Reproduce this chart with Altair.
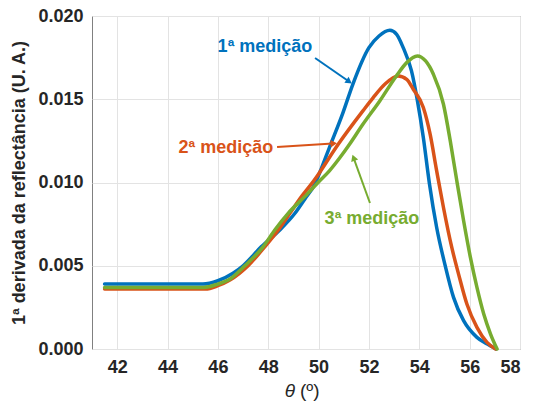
import math
import altair as alt
import pandas as pd

# ---- data ----
blue_x = [41.5, 45.4, 46.0, 46.6, 47.0, 47.73, 48.46, 49.06, 49.45, 49.85, 50.1, 50.43, 50.97,
          51.36, 52.0, 52.4, 52.83, 53.1, 53.36, 53.69, 53.92, 54.16, 54.4, 54.69, 55.03, 55.36,
          55.76, 56.29, 56.7, 57.05]
blue_y = [0.0039, 0.0039, 0.0041, 0.00455, 0.0050, 0.00615, 0.00715, 0.00815, 0.0090, 0.0099,
          0.0108, 0.0121, 0.0142, 0.0159, 0.0181, 0.0188, 0.01914, 0.0189, 0.0181, 0.0167,
          0.01496, 0.0127, 0.00996, 0.0073, 0.0050, 0.0031, 0.0017, 0.0007, 0.0003, 0.0]

orange_x = [41.5, 45.5, 46.0, 46.48, 47.2, 47.87, 48.4, 48.86, 49.32, 49.81, 50.78, 51.76, 52.17,
            52.63, 53.16, 53.5, 53.76, 54.16, 54.43, 54.69, 54.96, 55.29, 55.56, 55.89, 56.29,
            56.69, 57.03]
orange_y = [0.0036, 0.0036, 0.0038, 0.00414, 0.0050, 0.00615, 0.00715, 0.00815, 0.00915, 0.0101,
            0.0123, 0.0143, 0.0151, 0.0159, 0.0164, 0.0162, 0.0156, 0.0145, 0.0129, 0.0107,
            0.0085, 0.0061, 0.0045, 0.0027, 0.0013, 0.0004, 0.0]

green_x = [41.5, 45.45, 46.0, 46.41, 47.07, 47.8, 48.26, 48.79, 49.45, 49.98, 50.43, 50.85, 51.23,
           51.76, 52.43, 53.09, 53.5, 53.92, 54.25, 54.56, 54.96, 55.23, 55.49, 55.76, 56.03,
           56.29, 56.56, 56.83, 57.09]
green_y = [0.0037, 0.0037, 0.0039, 0.00414, 0.0050, 0.00615, 0.00715, 0.00815, 0.00915, 0.0100,
           0.0107, 0.0115, 0.0123, 0.0135, 0.0149, 0.0164, 0.0172, 0.0176, 0.0173, 0.0165,
           0.0147, 0.0125, 0.0101, 0.0077, 0.0055, 0.0037, 0.0021, 0.0009, 0.0]

series_names = ["1ª medição", "2ª medição", "3ª medição"]
series_colors = ["#0072BD", "#D95319", "#77AC30"]

x_ticks = [42, 44, 46, 48, 50, 52, 54, 56, 58]
y_ticks = [0.0, 0.005, 0.010, 0.015, 0.020]

# annotation: label position, arrow start, arrow end (data coordinates)
ann_label_x = [47.87, 46.32, 52.12]
ann_label_y = [0.01814, 0.01207, 0.00781]
arrow_x0 = [49.86, 48.35, 52.04]
arrow_y0 = [0.01748, 0.01213, 0.00877]
arrow_x1 = [51.31, 50.72, 51.35]
arrow_y1 = [0.01596, 0.01235, 0.01165]

# ---- layout ----
W, H = 428, 333
XD = [41, 58]
YD = [0, 0.02]
FONT = "Liberation Sans"
TXT = "#262626"

rows = []
for name, xs_, ys_ in zip(series_names, [blue_x, orange_x, green_x], [blue_y, orange_y, green_y]):
    for a, b in zip(xs_, ys_):
        rows.append({"serie": name, "x": a, "y": b})
df = pd.DataFrame(rows)

px_per_x = W / (XD[1] - XD[0])
px_per_y = H / (YD[1] - YD[0])

ann_rows = []
for i, name in enumerate(series_names):
    dxp = (arrow_x1[i] - arrow_x0[i]) * px_per_x
    dyp = -(arrow_y1[i] - arrow_y0[i]) * px_per_y
    L = math.hypot(dxp, dyp)
    ang = math.degrees(math.atan2(dxp, -dyp)) % 360
    back = 4.0
    hx = arrow_x1[i] - dxp / L * back / px_per_x
    hy = arrow_y1[i] + dyp / L * back / px_per_y
    ann_rows.append({"serie": name, "lx": ann_label_x[i], "ly": ann_label_y[i],
                     "x0": arrow_x0[i], "y0": arrow_y0[i], "x1": hx, "y1": hy,
                     "hx": hx, "hy": hy, "ang": ang})
adf = pd.DataFrame(ann_rows)

xs = alt.Scale(domain=XD, nice=False, zero=False)
ys = alt.Scale(domain=YD, nice=False, zero=True)
cs = alt.Scale(domain=series_names, range=series_colors)

lines = alt.Chart(df).mark_line(strokeWidth=3.5, interpolate="monotone", strokeCap="round").encode(
    x=alt.X("x:Q", scale=xs, axis=alt.Axis(values=x_ticks, title=None, format="d")),
    y=alt.Y("y:Q", scale=ys, axis=alt.Axis(values=y_ticks, format=".3f",
                                            title="1ª derivada da reflectância (U. A.)")),
    color=alt.Color("serie:N", scale=cs, legend=None),
)

ann = alt.Chart(adf)
arrows = ann.mark_rule(strokeWidth=2).encode(
    x=alt.X("x0:Q", scale=xs), y=alt.Y("y0:Q", scale=ys),
    x2="x1:Q", y2="y1:Q",
    color=alt.Color("serie:N", scale=cs, legend=None),
)
heads = ann.mark_point(shape="triangle", filled=True, size=55, opacity=1).encode(
    x=alt.X("hx:Q", scale=xs), y=alt.Y("hy:Q", scale=ys),
    angle=alt.Angle("ang:Q", scale=None),
    color=alt.Color("serie:N", scale=cs, legend=None),
)
labels = ann.mark_text(font=FONT, fontSize=18, fontWeight="bold").encode(
    x=alt.X("lx:Q", scale=xs), y=alt.Y("ly:Q", scale=ys), text="serie:N",
    color=alt.Color("serie:N", scale=cs, legend=None),
)

xt1 = alt.Chart(adf).transform_filter("datum.serie == '1ª medição'").mark_text(
    font=FONT, fontSize=19, fontStyle="italic", align="right", baseline="alphabetic", color=TXT
).encode(x=alt.value(203), y=alt.value(H + 48), text=alt.value("θ"))
xt2 = alt.Chart(adf).transform_filter("datum.serie == '1ª medição'").mark_text(
    font=FONT, fontSize=19, align="left", baseline="alphabetic", color=TXT
).encode(x=alt.value(208), y=alt.value(H + 48), text=alt.value("(º)"))

chart = alt.layer(lines, arrows, heads, labels, xt1, xt2).properties(
    width=W, height=H,
    autosize=alt.AutoSizeParams(type="none"),
    padding={"left": 92, "top": 16, "right": 16, "bottom": 61},
).configure_view(stroke="#808080", strokeWidth=1).configure_axis(
    labelFont=FONT, labelFontSize=18, labelFontWeight="bold", labelColor=TXT,
    titleFont=FONT, titleFontSize=18, titleFontWeight="bold", titleColor=TXT,
    grid=True, gridColor="#e3e3e3", gridWidth=1, domain=False, ticks=False,
).configure_axisX(labelPadding=9).configure_axisY(labelPadding=9, titlePadding=9)

chart.save("out.html", embed_options={"renderer": "svg", "actions": False})
